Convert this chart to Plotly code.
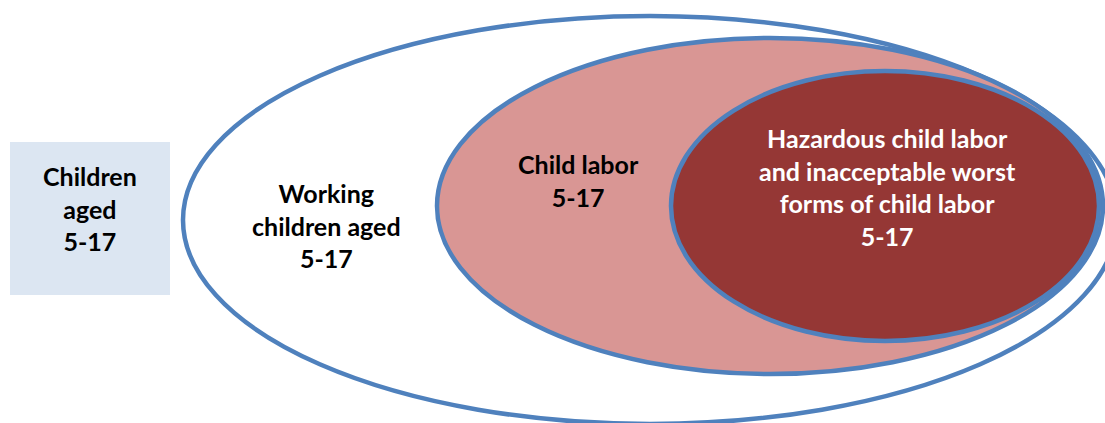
import plotly.graph_objects as go

# Region labels (outer to inner)
box_label = ["Children", "aged", "5-17"]
region_labels = [
    ["Working", "children aged", "5-17"],
    ["Child labor", "5-17"],
    ["Hazardous child labor", "and inacceptable worst", "forms of child labor", "5-17"],
]

# Geometry (pixel space, y downward)
box = dict(x0=10, x1=170, y0=142, y1=295)
ellipses = [
    dict(x0=183, x1=1117, y0=16, y1=424),
    dict(x0=437, x1=1103, y0=38, y1=374),
    dict(x0=671, x1=1099, y0=71, y1=341),
]
fills = ["rgba(255,255,255,0)", "#D99694", "#953735"]
text_colors = ["#000000", "#000000", "#FFFFFF"]
text_pos = [(326, 225), (578, 180), (887, 187)]
box_text_pos = (90, 208)
line_color = "#4F81BD"
FONT = "Lato"
FS = 25

fig = go.Figure()
shapes = [dict(type="rect", xref="x", yref="y", fillcolor="#DCE6F2",
               line=dict(width=0), layer="below", **box)]
for e, f in zip(ellipses, fills):
    shapes.append(dict(type="circle", xref="x", yref="y", fillcolor=f,
                       line=dict(color=line_color, width=4.5), layer="below", **e))

annotations = [dict(x=box_text_pos[0], y=box_text_pos[1], xref="x", yref="y",
                    text="<br>".join(f"<b>{t}</b>" for t in box_label),
                    showarrow=False, align="center",
                    font=dict(family=FONT, size=FS, color="#000000"))]
for lbl, col, pos in zip(region_labels, text_colors, text_pos):
    annotations.append(dict(x=pos[0], y=pos[1], xref="x", yref="y",
                            text="<br>".join(f"<b>{t}</b>" for t in lbl),
                            showarrow=False, align="center",
                            font=dict(family=FONT, size=FS, color=col)))

fig.update_layout(
    width=1105, height=423,
    margin=dict(l=0, r=0, t=0, b=0),
    paper_bgcolor="white", plot_bgcolor="white",
    xaxis=dict(range=[0, 1105], visible=False, fixedrange=True),
    yaxis=dict(range=[423, 0], visible=False, fixedrange=True),
    shapes=shapes, annotations=annotations, showlegend=False,
)
fig.write_html("out.html", config={"displayModeBar": False},
               post_script="document.body.style.margin='0';document.body.style.overflow='hidden';")
